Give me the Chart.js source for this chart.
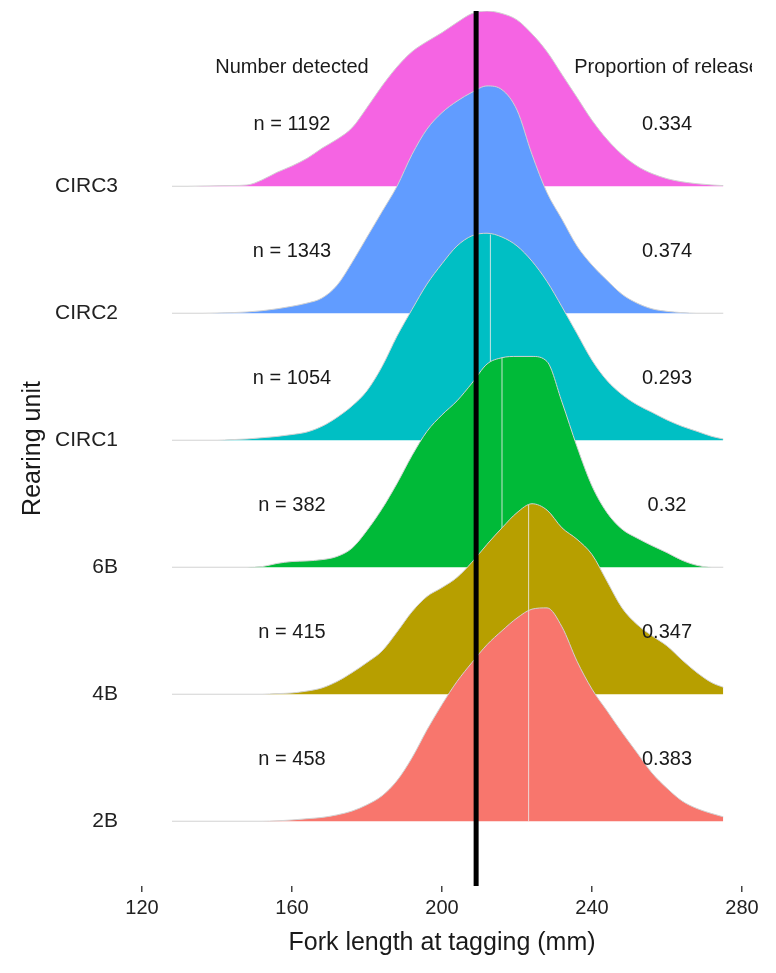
<!DOCTYPE html>
<html>
<head>
<meta charset="utf-8">
<title>Fork length at tagging by rearing unit</title>
<script src="https://cdn.jsdelivr.net/npm/chart.js@4.4.1/dist/chart.umd.min.js"></script>
<style>
  html, body { margin: 0; padding: 0; background: #fff; }
  canvas { display: block; }
</style>
</head>
<body>
<canvas id="ridges" width="776" height="973"></canvas>
<script>
// rearing units, bottom ridge first
const units = ["2B", "4B", "6B", "CIRC1", "CIRC2", "CIRC3"];
const colors = ["#F8766D", "#B79F00", "#00BA38", "#00BFC4", "#619CFF", "#F564E3"];

// fork length grid (mm) for the density curves
const forkLength = [128, 132, 136, 140, 144, 148, 152, 156, 160, 164, 168, 172, 176, 180, 184, 188, 192,
  196, 200, 204, 208, 212, 216, 220, 224, 228, 232, 236, 240, 244, 248, 252, 256, 260, 264, 268, 272, 275];

// ridge heights (in ridge spacings)
const dens2B = [0, 0, 0, 0, 0, 0, 0, 0.003, 0.01, 0.02, 0.03, 0.05, 0.08, 0.13, 0.2, 0.32, 0.5,
  0.72, 0.92, 1.1, 1.25, 1.39, 1.5, 1.6, 1.67, 1.68, 1.53, 1.26, 1.04, 0.87, 0.7, 0.54, 0.38, 0.26, 0.16, 0.1, 0.06, 0.035];
const dens4B = [0, 0, 0, 0, 0, 0, 0, 0.005, 0.01, 0.025, 0.05, 0.1, 0.17, 0.25, 0.34, 0.49, 0.65,
  0.77, 0.84, 0.92, 1.04, 1.18, 1.31, 1.43, 1.5, 1.45, 1.31, 1.22, 1.1, 0.89, 0.68, 0.55, 0.46, 0.38, 0.27, 0.17, 0.09, 0.055];
const dens6B = [0, 0, 0, 0, 0, 0, 0.005, 0.03, 0.045, 0.05, 0.06, 0.085, 0.15, 0.29, 0.46, 0.66, 0.88,
  1.07, 1.2, 1.31, 1.45, 1.6, 1.65, 1.66, 1.66, 1.62, 1.3, 0.95, 0.64, 0.43, 0.3, 0.23, 0.17, 0.115, 0.055, 0.015, 0, 0];
const densCIRC1 = [0, 0, 0, 0, 0.005, 0.01, 0.02, 0.03, 0.045, 0.065, 0.11, 0.18, 0.27, 0.39, 0.58, 0.82, 1.03,
  1.23, 1.39, 1.53, 1.61, 1.63, 1.6, 1.53, 1.41, 1.25, 1.05, 0.84, 0.63, 0.47, 0.36, 0.28, 0.22, 0.16, 0.11, 0.07, 0.03, 0.01];
const densCIRC2 = [0, 0, 0, 0.002, 0.005, 0.01, 0.02, 0.035, 0.055, 0.08, 0.12, 0.22, 0.4, 0.6, 0.8, 1.0, 1.25,
  1.45, 1.58, 1.67, 1.74, 1.79, 1.76, 1.6, 1.25, 0.95, 0.74, 0.53, 0.38, 0.26, 0.15, 0.08, 0.035, 0.015, 0.005, 0, 0, 0];
const densCIRC3 = [0, 0, 0.002, 0.004, 0.006, 0.01, 0.05, 0.11, 0.16, 0.22, 0.3, 0.37, 0.46, 0.62, 0.79, 0.94, 1.06,
  1.14, 1.21, 1.29, 1.36, 1.38, 1.36, 1.31, 1.2, 1.06, 0.88, 0.7, 0.52, 0.37, 0.25, 0.16, 0.1, 0.06, 0.035, 0.02, 0.01, 0.005];
const densities = [dens2B, dens4B, dens6B, densCIRC1, densCIRC2, densCIRC3];

// median line of each ridge
const medianLength = [223.1, 223.1, 216, 212.9, 209.5, 209];
const medianHeight = [1.66, 1.49, 1.65, 1.62, 1.75, 1.36];

// labels
const nDetected = [458, 415, 382, 1054, 1343, 1192];
const propRelease = ["0.383", "0.347", "0.32", "0.293", "0.374", "0.334"];
const headers = ["Number detected", "Proportion of release"];
const refLength = 209.1;
const xTicks = [120, 160, 200, 240, 280];

const FONT = '"Liberation Sans", Arial, Helvetica, sans-serif';
const labelLift = 0.49, headerY = 6.935, countX = 160, propX = 260;

const datasets = [];
units.forEach((u, i) => {
  const base = i + 1;
  datasets.push({
    label: u,
    data: forkLength.map((x, k) => ({ x: x, y: base + densities[i][k] })),
    fill: { value: base },
    backgroundColor: colors[i],
    borderColor: "#d2d2d2",
    borderWidth: 1,
    pointRadius: 0,
    cubicInterpolationMode: "monotone",
    order: 2 * i + 2,
  });
  datasets.push({
    label: u + " median",
    data: [{ x: medianLength[i], y: base }, { x: medianLength[i], y: base + medianHeight[i] }],
    fill: false,
    borderColor: "rgba(235,235,235,0.85)",
    borderWidth: 1,
    pointRadius: 0,
    order: 2 * i + 1,
  });
});

const ridgeText = {
  id: "ridgeText",
  afterDatasetsDraw(chart) {
    const { ctx, chartArea, scales } = chart;
    const x = scales.x, y = scales.y;
    ctx.save();
    // reference line
    const rx = x.getPixelForValue(refLength);
    ctx.strokeStyle = "#000";
    ctx.lineWidth = 5;
    ctx.beginPath();
    ctx.moveTo(rx, chartArea.top);
    ctx.lineTo(rx, chartArea.bottom);
    ctx.stroke();

    ctx.font = "20px " + FONT;
    ctx.fillStyle = "#1a1a1a";
    ctx.textAlign = "center";
    ctx.textBaseline = "middle";
    units.forEach((u, i) => {
      const yy = y.getPixelForValue(i + 1 + labelLift);
      ctx.fillText("n = " + nDetected[i], x.getPixelForValue(countX), yy);
      ctx.fillText(propRelease[i], x.getPixelForValue(propX), yy);
    });
    const hy = y.getPixelForValue(headerY);
    ctx.fillText(headers[0], x.getPixelForValue(countX), hy);
    ctx.beginPath();
    ctx.rect(0, 0, chartArea.right + 10, chart.height);
    ctx.clip();
    ctx.fillText(headers[1], x.getPixelForValue(propX), hy);
    ctx.restore();
  },
};

new Chart(document.getElementById("ridges"), {
  type: "line",
  data: { datasets: datasets },
  options: {
    responsive: false,
    animation: false,
    layout: { padding: { left: 15, right: 34, top: 11, bottom: 0 } },
    plugins: {
      legend: { display: false },
      tooltip: { enabled: false },
      filler: { drawTime: "beforeDatasetDraw" },
    },
    scales: {
      x: {
        type: "linear",
        min: 120,
        max: 280,
        afterBuildTicks: (s) => { s.ticks = xTicks.map((v) => ({ value: v })); },
        afterFit: (s) => { s.height = 87; s.paddingLeft = 0; s.paddingRight = 0; },
        grid: { drawOnChartArea: false, drawTicks: true, tickLength: 6, color: "#444", lineWidth: 1.5 },
        border: { display: false },
        ticks: { padding: 4, color: "#222", font: { size: 20, family: FONT } },
        title: {
          display: true,
          text: "Fork length at tagging (mm)",
          color: "#1a1a1a",
          font: { size: 25, family: FONT },
          padding: { top: 0, bottom: 15 },
        },
      },
      y: {
        type: "linear",
        min: 0.49,
        max: 7.38,
        afterBuildTicks: (s) => { s.ticks = units.map((u, i) => ({ value: i + 1 })); },
        afterFit: (s) => { s.width = 127; s.paddingTop = 0; s.paddingBottom = 0; },
        grid: { display: false, drawTicks: false },
        border: { display: false },
        ticks: {
          padding: 24,
          color: "#222",
          font: { size: 21, family: FONT },
          callback: (v) => units[v - 1],
        },
        title: {
          display: true,
          text: "Rearing unit",
          color: "#1a1a1a",
          font: { size: 25, family: FONT },
          padding: { top: 3, bottom: 0 },
        },
      },
    },
  },
  plugins: [ridgeText],
});
</script>
</body>
</html>
